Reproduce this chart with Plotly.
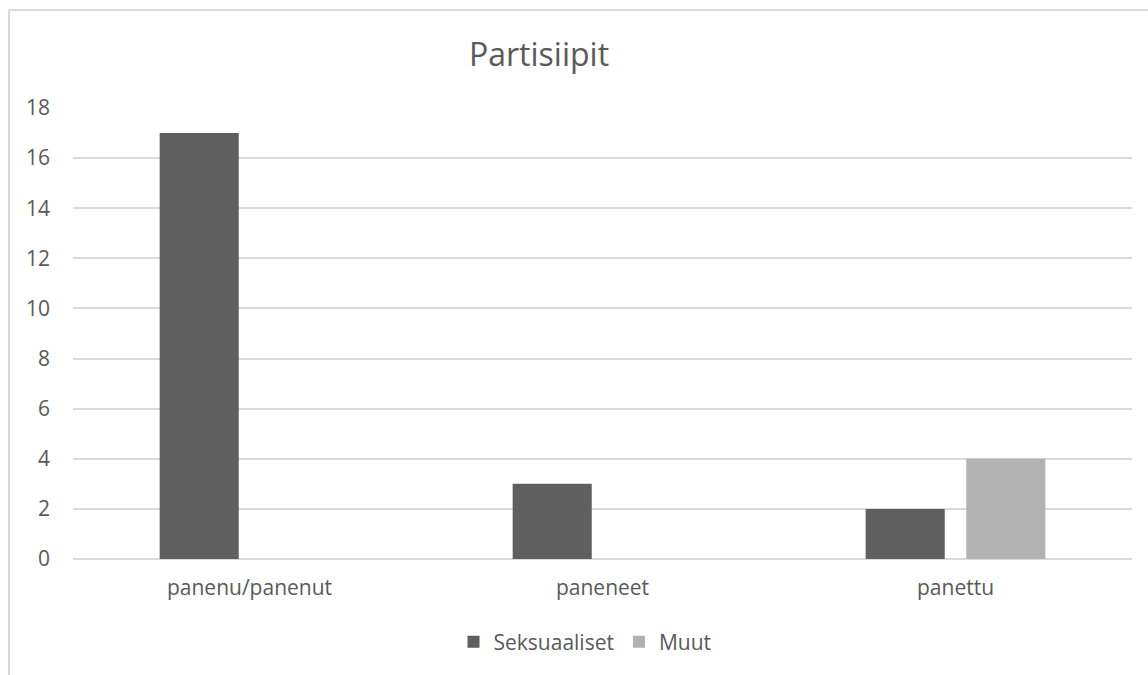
import plotly.graph_objects as go

# Chart data
categories = ["panenu/panenut", "paneneet", "panettu"]
seksuaaliset = [17, 3, 2]
muut = [0, 0, 4]
y_ticks = [0, 2, 4, 6, 8, 10, 12, 14, 16, 18]

W, H = 1148, 675
M_L, M_R, M_T, M_B = 73, 16, 108, 116
PW, PH = W - M_L - M_R, H - M_T - M_B


def px_x(px):
    return (px - M_L) / PW


def px_y(py):
    return (H - M_B - py) / PH


FONT = "Open Sans"
TXT = "#595959"
GRID = "#d9d9d9"

fig = go.Figure()
fig.add_trace(go.Bar(x=categories, y=seksuaaliset, name="Seksuaaliset",
                     marker=dict(color="#5f5f5f", line=dict(width=0))))
fig.add_trace(go.Bar(x=categories, y=muut, name="Muut",
                     marker=dict(color="#b2b2b2", line=dict(width=0))))

fig.update_layout(
    width=W, height=H,
    margin=dict(l=M_L, r=M_R, t=M_T, b=M_B, autoexpand=False),
    paper_bgcolor="white", plot_bgcolor="white",
    barmode="group", bargap=0.43, bargroupgap=0.214,
    font=dict(family=FONT, color=TXT, size=21),
    title=dict(text="Partisiipit", x=539 / W,
               xanchor="center", y=1 - 55 / H, yanchor="middle",
               font=dict(family=FONT, size=32, color=TXT)),
    xaxis=dict(showgrid=False, showline=False, zeroline=False, ticks="",
               tickfont=dict(size=21, color=TXT), ticklabelstandoff=14),
    yaxis=dict(range=[0, 18], tickvals=y_ticks, showgrid=True,
               gridcolor=GRID, gridwidth=1.5, zeroline=True,
               zerolinecolor=GRID, zerolinewidth=1.5, showline=False,
               ticks="", tickfont=dict(size=21, color=TXT),
               ticklabelstandoff=22),
    legend=dict(orientation="h", xanchor="center", x=px_x(585),
                yanchor="middle", y=px_y(642), font=dict(size=21, color=TXT),
                itemwidth=30, traceorder="normal"),
    showlegend=True,
    shapes=[
        dict(type="line", xref="paper", yref="paper", x0=px_x(9), x1=px_x(1148),
             y0=px_y(10), y1=px_y(10), line=dict(color=GRID, width=2)),
        dict(type="line", xref="paper", yref="paper", x0=px_x(9), x1=px_x(9),
             y0=px_y(10), y1=px_y(675), line=dict(color=GRID, width=2)),
    ],
)

fig.write_html("out.html")
